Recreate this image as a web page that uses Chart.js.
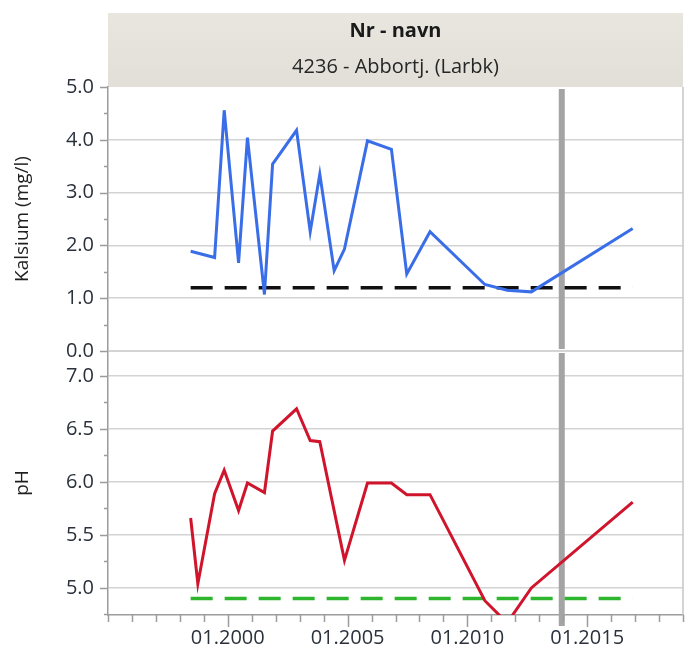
<!DOCTYPE html>
<html>
<head>
<meta charset="utf-8">
<script src="https://cdn.jsdelivr.net/npm/chart.js@4.4.1/dist/chart.umd.min.js"></script>
<style>
  html, body { margin: 0; padding: 0; background: #ffffff; }
  #wrap { position: relative; width: 696px; height: 657px; }
</style>
</head>
<body>
<div id="wrap"><canvas id="chart" width="696" height="657"></canvas></div>
<script>
// Sampling dates (decimal years) shared by both panels
const sampleYears = [1998.45, 1998.75, 1999.45, 1999.85, 2000.45, 2000.82, 2001.53, 2001.87,
  2002.87, 2003.44, 2003.84, 2004.44, 2004.87, 2005.83, 2006.83, 2007.47, 2008.44,
  2010.73, 2011.66, 2012.67, 2016.90];
// Calcium (mg/l); null where no calcium was measured
const calcium = [1.89, null, 1.77, 4.56, 1.67, 4.04, 1.07, 3.54,
  4.18, 2.26, 3.35, 1.52, 1.93, 3.98, 3.82, 1.46, 2.26,
  1.26, 1.15, 1.12, 2.32];
// pH; null where no pH was measured
const ph = [5.66, 5.04, 5.89, 6.11, 5.73, 5.99, 5.90, 6.48,
  6.69, 6.39, 6.38, null, 5.26, 5.99, 5.99, 5.88, 5.88,
  4.88, 4.67, 5.00, 5.81];

// Reference levels and the marker date
const calciumLimit = 1.2;
const phLimit = 4.9;
const markerYear = 2013.94;

// Axis ticks
const caMajorTicks = [0, 1, 2, 3, 4, 5];
const caMinorTicks = [0.5, 1.5, 2.5, 3.5, 4.5];
const phMajorTicks = [5.0, 5.5, 6.0, 6.5, 7.0];
const phMinorTicks = [4.75, 5.25, 5.75, 6.25, 6.75];
const yearTicks = [1995, 1996, 1997, 1998, 1999, 2000, 2001, 2002, 2003, 2004, 2005, 2006,
  2007, 2008, 2009, 2010, 2011, 2012, 2013, 2014, 2015, 2016, 2017, 2018, 2019];
const yearLabels = [2000, 2005, 2010, 2015];

const headerTitle = 'Nr - navn';
const headerSubtitle = '4236 - Abbortj. (Larbk)';

const FONT = "'Open Sans', 'Noto Sans', sans-serif";
const LABEL_COLOR = '#2a313b';
const GRID_COLOR = '#d3d3d3';
const AXIS_COLOR = '#9c9c9c';

Chart.defaults.font.family = FONT;

const points = (vals) => sampleYears.map((x, i) => ({ x, y: vals[i] }));
const levelLine = (v) => [
  { x: sampleYears[0], y: v },
  { x: sampleYears[sampleYears.length - 1], y: v }
];

// Header band above the plot area
const headerPlugin = {
  id: 'headerBand',
  beforeDraw(chart) {
    const { ctx, chartArea: a } = chart;
    const top = 13;
    ctx.save();
    const g = ctx.createLinearGradient(0, top, 0, a.top);
    g.addColorStop(0, '#e8e6df');
    g.addColorStop(1, '#e1dfd7');
    ctx.fillStyle = g;
    ctx.fillRect(a.left, top, a.right - a.left, a.top - top);
    ctx.fillStyle = '#1a1a1a';
    ctx.textAlign = 'center';
    ctx.textBaseline = 'middle';
    const cx = (a.left + a.right) / 2;
    ctx.font = 'bold 20px ' + FONT;
    ctx.fillText(headerTitle, cx, 31);
    ctx.font = '20px ' + FONT;
    ctx.fillStyle = '#262626';
    ctx.fillText(headerSubtitle, cx, 67);
    ctx.restore();
  }
};

// Vertical marker drawn separately in each panel
const markerPlugin = {
  id: 'marker',
  beforeDatasetsDraw(chart) {
    const { ctx, scales } = chart;
    const x = scales.x.getPixelForValue(markerYear);
    ctx.save();
    ctx.strokeStyle = '#a4a4a4';
    ctx.lineWidth = 6;
    ctx.beginPath();
    ctx.moveTo(x, scales.yCa.top + 2);
    ctx.lineTo(x, scales.yCa.bottom - 2);
    ctx.moveTo(x, scales.yPh.top + 2);
    ctx.lineTo(x, scales.yPh.bottom + 11);
    ctx.stroke();
    ctx.restore();
  }
};

// Panel frame and tick marks
const framePlugin = {
  id: 'frame',
  afterDraw(chart) {
    const { ctx, chartArea: a, scales } = chart;
    ctx.save();
    // right edge and panel divider
    ctx.strokeStyle = '#c6c6c6';
    ctx.lineWidth = 1.5;
    ctx.beginPath();
    ctx.moveTo(a.right, a.top);
    ctx.lineTo(a.right, a.bottom);
    ctx.moveTo(a.left, scales.yCa.bottom);
    ctx.lineTo(a.right, scales.yCa.bottom);
    ctx.stroke();

    ctx.strokeStyle = AXIS_COLOR;
    ctx.lineWidth = 1.5;
    ctx.beginPath();
    const yTick = (scale, v, len) => {
      if (v < scale.min - 1e-9 || v > scale.max + 1e-9) return;
      const y = Math.round(scale.getPixelForValue(v)) + 0.5;
      ctx.moveTo(a.left - len, y);
      ctx.lineTo(a.left, y);
    };
    caMajorTicks.forEach(v => yTick(scales.yCa, v, 8));
    caMinorTicks.forEach(v => yTick(scales.yCa, v, 4));
    phMajorTicks.forEach(v => yTick(scales.yPh, v, 8));
    phMinorTicks.forEach(v => yTick(scales.yPh, v, 4));
    yearTicks.forEach(v => {
      const x = Math.round(scales.x.getPixelForValue(v)) + 0.5;
      const len = yearLabels.includes(v) ? 12 : 7;
      ctx.moveTo(x, a.bottom);
      ctx.lineTo(x, a.bottom + len);
    });
    ctx.stroke();
    ctx.restore();
  }
};

const setTicks = (list) => (scale) => { scale.ticks = list.map(v => ({ value: v })); };

new Chart(document.getElementById('chart'), {
  type: 'line',
  data: {
    datasets: [
      {
        label: 'Kalsium',
        data: points(calcium),
        yAxisID: 'yCa',
        borderColor: '#3a6ee8',
        borderWidth: 3,
        pointRadius: 0,
        spanGaps: true,
        tension: 0
      },
      {
        label: 'Kalsium grense',
        data: levelLine(calciumLimit),
        yAxisID: 'yCa',
        borderColor: '#111111',
        borderWidth: 3.5,
        borderDash: [22, 12],
        pointRadius: 0
      },
      {
        label: 'pH',
        data: points(ph),
        yAxisID: 'yPh',
        borderColor: '#d0142c',
        borderWidth: 3,
        pointRadius: 0,
        spanGaps: true,
        tension: 0,
        clip: 0
      },
      {
        label: 'pH grense',
        data: levelLine(phLimit),
        yAxisID: 'yPh',
        borderColor: '#2db52d',
        borderWidth: 3.5,
        borderDash: [22, 12],
        pointRadius: 0
      }
    ]
  },
  options: {
    responsive: false,
    animation: false,
    devicePixelRatio: 1,
    layout: { padding: { top: 87, right: 13, bottom: 0, left: 0 } },
    plugins: { legend: { display: false }, tooltip: { enabled: false } },
    scales: {
      x: {
        type: 'linear',
        min: 1995,
        max: 2019,
        afterFit: (s) => { s.height = 42; },
        afterBuildTicks: setTicks(yearTicks),
        grid: { display: false, drawTicks: false },
        border: { display: true, color: AXIS_COLOR, width: 1.5 },
        ticks: {
          autoSkip: false,
          maxRotation: 0,
          padding: 11,
          color: LABEL_COLOR,
          font: { size: 20 },
          callback: (v) => yearLabels.includes(v) ? '01.' + v : ''
        }
      },
      yCa: {
        type: 'linear',
        position: 'left',
        stack: 'panels',
        stackWeight: 1,
        weight: 2,
        min: 0,
        max: 5,
        afterFit: (s) => { s.width = 108; },
        afterBuildTicks: setTicks(caMajorTicks),
        grid: {
          drawTicks: false,
          lineWidth: 1.5,
          color: (c) => (c.tick && c.tick.value > 0 && c.tick.value < 5) ? GRID_COLOR : 'rgba(0,0,0,0)'
        },
        border: { display: true, color: AXIS_COLOR, width: 1.5 },
        title: {
          display: true,
          text: 'Kalsium (mg/l)',
          color: '#1f1f1f',
          font: { size: 19 },
          padding: { top: 11, bottom: 0 }
        },
        ticks: {
          padding: 14,
          color: LABEL_COLOR,
          font: { size: 20 },
          callback: (v) => v.toFixed(1)
        }
      },
      yPh: {
        type: 'linear',
        position: 'left',
        stack: 'panels',
        stackWeight: 1,
        weight: 1,
        min: 4.745,
        max: 7.235,
        afterFit: (s) => { s.width = 108; },
        afterBuildTicks: setTicks(phMajorTicks),
        grid: {
          drawTicks: false,
          lineWidth: 1.5,
          color: GRID_COLOR
        },
        border: { display: true, color: AXIS_COLOR, width: 1.5 },
        title: {
          display: true,
          text: 'pH',
          color: '#1f1f1f',
          font: { size: 19 },
          padding: { top: 11, bottom: 0 }
        },
        ticks: {
          padding: 14,
          color: LABEL_COLOR,
          font: { size: 20 },
          callback: (v) => v.toFixed(1)
        }
      }
    }
  },
  plugins: [headerPlugin, markerPlugin, framePlugin]
});
</script>
</body>
</html>
